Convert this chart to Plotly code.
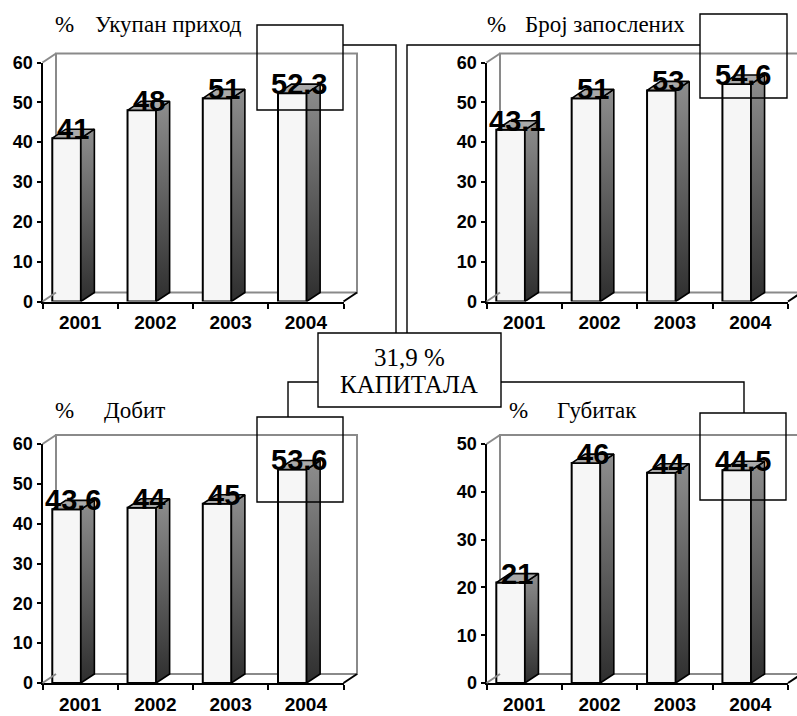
import plotly.graph_objects as go

W, H = 797, 716

# ---- data -------------------------------------------------------------
years = ["2001", "2002", "2003", "2004"]
income = [41, 48, 51, 52.3]          # Укупан приход
employees = [43.1, 51, 53, 54.6]     # Број запослених
profit = [43.6, 44, 45, 53.6]        # Добит
loss = [21, 46, 44, 44.5]            # Губитак

series = [income, employees, profit, loss]
titles = ["Укупан приход", "Број запослених", "Добит", "Губитак"]
y_max = [60, 60, 60, 50]
capital_share = "31,9 %"
capital_label = "КАПИТАЛА"

# ---- geometry (pixels) ------------------------------------------------
# plot-area box of each panel: left, right, top, bottom
panels = [
    (42.5, 343.5, 62.5, 301.5),
    (486.5, 788.0, 62.5, 301.5),
    (42.5, 343.5, 444.0, 683.0),
    (486.5, 788.0, 444.0, 683.0),
]
DX_PX, DY_PX = 13.5, 9.0          # 3-D depth offset
FRONT_OFFSET, FRONT_WIDTH = -0.37, 0.38

# title positions: "%" x, word x, y
title_pos = [(53, 93, 25), (485, 523, 25), (53, 102, 410), (507, 555, 410)]
# frames around the 2004 value
value_boxes = [(257, 343, 25, 110), (700, 787, 14, 98),
               (257, 343, 417, 502), (700, 786, 413, 500)]
center_box = (318, 501, 333, 407)
connectors = [
    [(343, 45), (396, 45), (396, 333)],
    [(700, 45), (407, 45), (407, 333)],
    [(318, 382), (288, 382), (288, 417)],
    [(501, 382), (744, 382), (744, 413)],
]

WALL = "#8a8a8a"
SERIF = "Liberation Serif"
SANS = "Liberation Sans"


def fx(px):
    return px / W


def fy(py):
    return 1 - py / H


fig = go.Figure()
shapes = []
annotations = []

for k, (vals, (l, r, t, b)) in enumerate(zip(series, panels), start=1):
    xs = "x" if k == 1 else f"x{k}"
    ys = "y" if k == 1 else f"y{k}"
    ymax = y_max[k - 1]
    dxu = DX_PX * 4 / (r - l)
    dyu = DY_PX * ymax / (b - t)
    pos = list(range(len(years)))

    # front faces
    fig.add_trace(go.Bar(
        x=pos, y=vals, xaxis=xs, yaxis=ys,
        offset=FRONT_OFFSET, width=FRONT_WIDTH,
        marker=dict(color="#f6f6f6", line=dict(color="black", width=2)),
        hoverinfo="skip", showlegend=False,
    ))

    for i, v in zip(pos, vals):
        L = i + FRONT_OFFSET
        R = L + FRONT_WIDTH
        # side face
        fig.add_trace(go.Scatter(
            x=[R, R + dxu, R + dxu, R, R], y=[0, dyu, v + dyu, v, 0],
            xaxis=xs, yaxis=ys, mode="lines", fill="toself",
            fillgradient=dict(type="vertical", start=0, stop=v + dyu,
                              colorscale=[[0, "#2e2e2e"], [1, "#8e8e8e"]]),
            line=dict(color="black", width=1.6),
            hoverinfo="skip", showlegend=False,
        ))
        # top face
        fig.add_trace(go.Scatter(
            x=[L, L + dxu, R + dxu, R, L], y=[v, v + dyu, v + dyu, v, v],
            xaxis=xs, yaxis=ys, mode="lines", fill="toself",
            fillcolor="#a9a9a9",
            line=dict(color="black", width=1.6),
            hoverinfo="skip", showlegend=False,
        ))
        # value label
        annotations.append(dict(
            x=i + FRONT_OFFSET + (FRONT_WIDTH + dxu) / 2, y=v, xref=xs, yref=ys,
            yshift=9, text=f"{v:g}", showarrow=False,
            font=dict(family=SANS, size=29, color="black", weight="bold"),
        ))

    # back wall and floor edges
    shapes.append(dict(type="rect", xref="paper", yref="paper", layer="below",
                       x0=fx(l + DX_PX), x1=fx(r + DX_PX),
                       y0=fy(b - DY_PX), y1=fy(t - DY_PX),
                       line=dict(color=WALL, width=2)))
    for (ax, ay, col) in [(l, b, WALL), (l, t, WALL), (r, b, "black")]:
        shapes.append(dict(type="line", xref="paper", yref="paper",
                           x0=fx(ax), y0=fy(ay), x1=fx(ax + DX_PX), y1=fy(ay - DY_PX),
                           line=dict(color=col, width=2)))

    axis_common = dict(showgrid=False, zeroline=False, fixedrange=True,
                       automargin=False,
                       showline=True, linecolor="black", linewidth=2)
    fig.update_layout(**{
        ("xaxis" if k == 1 else f"xaxis{k}"): dict(
            domain=[fx(l), fx(r)], anchor=ys, range=[-0.5, len(years) - 0.5],
            tickmode="array", tickvals=pos, ticktext=years, ticks="",
            ticklabelstandoff=3,
            tickfont=dict(family=SANS, size=19, color="black", weight="bold"),
            minor=dict(tickmode="array",
                       tickvals=[p - 0.5 for p in pos] + [len(years) - 0.5],
                       ticks="outside", ticklen=5, tickwidth=2, tickcolor="black",
                       showgrid=False),
            **axis_common),
        ("yaxis" if k == 1 else f"yaxis{k}"): dict(
            domain=[fy(b), fy(t)], anchor=xs, range=[0, ymax],
            tickmode="linear", tick0=0, dtick=10,
            ticks="outside", ticklen=4, tickwidth=2, tickcolor="black",
            tickfont=dict(family=SANS, size=18, color="black", weight="bold"),
            **axis_common),
    })

    # panel title
    px_pct, px_word, py_title = title_pos[k - 1]
    for txt, xx in [("%", px_pct), (titles[k - 1], px_word)]:
        annotations.append(dict(x=fx(xx), y=fy(py_title), xref="paper", yref="paper",
                                xanchor="left", yanchor="middle", text=txt,
                                showarrow=False,
                                font=dict(family=SERIF, size=23, color="black")))

# frames around the 2004 values
for (x0, x1, y0, y1) in value_boxes:
    shapes.append(dict(type="rect", xref="paper", yref="paper", layer="above",
                       x0=fx(x0), x1=fx(x1), y0=fy(y1), y1=fy(y0),
                       line=dict(color="black", width=1.4)))

# connector lines to the capital box
for pts in connectors:
    path = "M " + " L ".join(f"{fx(x):.5f},{fy(y):.5f}" for x, y in pts)
    shapes.append(dict(type="path", xref="paper", yref="paper", layer="above",
                       path=path, line=dict(color="black", width=1.4)))

cx0, cx1, cy0, cy1 = center_box
shapes.append(dict(type="rect", xref="paper", yref="paper", layer="above",
                   x0=fx(cx0), x1=fx(cx1), y0=fy(cy1), y1=fy(cy0),
                   fillcolor="white", line=dict(color="black", width=1.4)))
for txt, yy in [(capital_share, 357), (capital_label, 384)]:
    annotations.append(dict(x=fx((cx0 + cx1) / 2), y=fy(yy),
                            xref="paper", yref="paper", showarrow=False,
                            xanchor="center", yanchor="middle", text=txt,
                            font=dict(family=SERIF, size=25, color="black")))

fig.update_layout(
    width=W, height=H, margin=dict(l=0, r=0, t=0, b=0),
    paper_bgcolor="white", plot_bgcolor="rgba(0,0,0,0)",
    barmode="overlay", hovermode=False, showlegend=False,
    shapes=shapes, annotations=annotations,
)

fig.write_html("out.html")
